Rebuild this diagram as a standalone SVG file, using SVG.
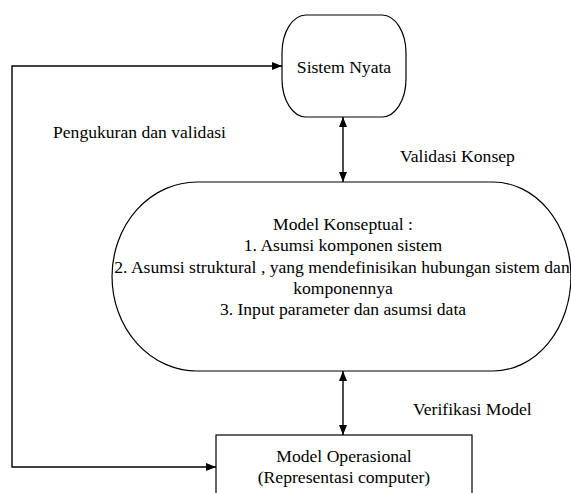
<svg xmlns="http://www.w3.org/2000/svg" width="571" height="493" viewBox="0 0 571 493">
  <style>
    .shape { fill: #ffffff; stroke: #000000; stroke-width: 1.2; }
    .mid { text-anchor: middle; }
    .edge { fill: none; stroke: #000000; stroke-width: 1.4; }
  </style>
  <defs>
    <marker id="arrow" viewBox="0 0 10 8" refX="10" refY="4" markerWidth="10" markerHeight="8" markerUnits="userSpaceOnUse" orient="auto-start-reverse">
      <path d="M0,0 L10,4 L0,8 Z" fill="#000000"/>
    </marker>
  </defs>

  <rect width="571" height="493" fill="#ffffff"/>

  <g font-family="Liberation Serif, DejaVu Serif, serif" font-size="17.6" fill="#000000">
    <!-- Real system -->
    <g id="sistem-nyata">
      <rect class="shape" x="282" y="15" width="124" height="102" rx="24" ry="38"/>
      <text class="mid" x="344" y="73">Sistem Nyata</text>
    </g>

    <!-- Conceptual model -->
    <g id="model-konseptual">
      <path class="shape" d="M197,182 H493 A78,94.5 0 0 1 493,371 H197 A85,94.5 0 0 1 197,182 Z"/>
      <text class="mid" x="343" y="230">Model Konseptual :</text>
      <text class="mid" x="343" y="251">1. Asumsi komponen sistem</text>
      <text class="mid" x="342" y="272.5">2. Asumsi struktural , yang mendefinisikan hubungan sistem dan</text>
      <text class="mid" x="343" y="294">komponennya</text>
      <text class="mid" x="343" y="315">3. Input parameter dan asumsi data</text>
    </g>

    <!-- Operational model -->
    <g id="model-operasional">
      <rect class="shape" x="216" y="435" width="256" height="80"/>
      <text class="mid" x="344" y="462">Model Operasional</text>
      <text class="mid" x="344" y="483">(Representasi computer)</text>
    </g>

    <!-- Connector labels -->
    <g id="labels">
      <text x="53" y="138">Pengukuran dan validasi</text>
      <text x="400" y="162">Validasi Konsep</text>
      <text x="413" y="415">Verifikasi Model</text>
    </g>
  </g>

  <!-- Connectors -->
  <g id="connectors">
    <line class="edge" x1="343" y1="117" x2="343" y2="182" marker-start="url(#arrow)" marker-end="url(#arrow)"/>
    <line class="edge" x1="343" y1="371" x2="343" y2="435" marker-start="url(#arrow)" marker-end="url(#arrow)"/>
    <polyline class="edge" points="216,467 12,467 12,66 282,66" marker-start="url(#arrow)" marker-end="url(#arrow)"/>
  </g>
</svg>
